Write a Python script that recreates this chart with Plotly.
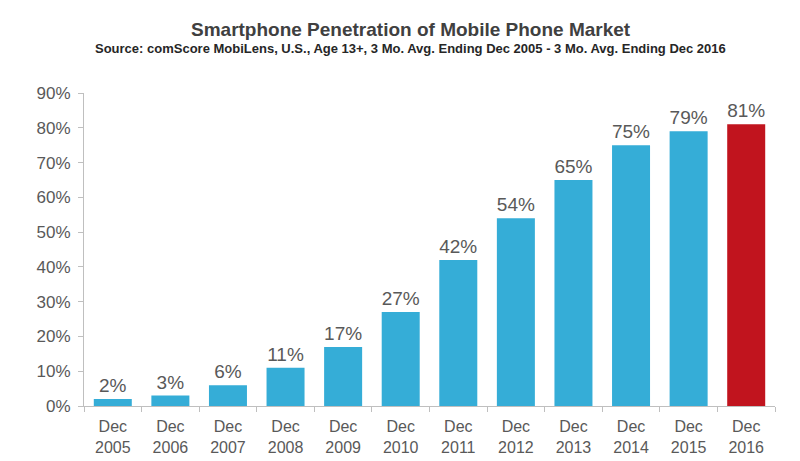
import plotly.graph_objects as go

categories = ["Dec<br>2005", "Dec<br>2006", "Dec<br>2007", "Dec<br>2008", "Dec<br>2009", "Dec<br>2010",
              "Dec<br>2011", "Dec<br>2012", "Dec<br>2013", "Dec<br>2014", "Dec<br>2015", "Dec<br>2016"]
values = [2, 3, 6, 11, 17, 27, 42, 54, 65, 75, 79, 81]
labels = [f"{v}%" for v in values]
colors = ["#35ADD7"] * 11 + ["#C1141E"]
y_ticks = [0, 10, 20, 30, 40, 50, 60, 70, 80, 90]
y_tick_labels = [f"{t}%" for t in y_ticks]

FONT = "Liberation Sans, Arial, sans-serif"
TXT = "#595959"

# page offset of the browser's default body margin
OFF = 8
W, H = 800, 461
L, R, T, B = 84 - OFF, 25 + OFF, 93 - OFF, 55 + OFF
pw, ph = W - L - R, H - T - B


def px(x_page):
    return (x_page - OFF - L) / pw


def py(y_page):
    return (H - (y_page - OFF) - B) / ph


fig = go.Figure(go.Bar(
    x=categories, y=values, marker=dict(color=colors, line=dict(width=0)),
    text=labels, textposition="outside", cliponaxis=False, constraintext="none",
    textfont=dict(family=FONT, size=19, color=TXT),
))

fig.update_layout(
    width=W, height=H,
    margin=dict(l=L, r=R, t=T, b=B, autoexpand=False),
    paper_bgcolor="white", plot_bgcolor="white",
    bargap=0.34, showlegend=False,
    font=dict(family=FONT, color=TXT),
    annotations=[
        dict(text="<b>Smartphone Penetration of Mobile Phone Market</b>", x=px(411), y=py(30),
             xref="paper", yref="paper", showarrow=False, font=dict(size=19, color="#404040", family=FONT),
             xanchor="center", yanchor="middle"),
        dict(text="<b>Source: comScore MobiLens, U.S., Age 13+, 3 Mo. Avg. Ending Dec 2005 - 3 Mo. Avg. Ending Dec 2016</b>",
             x=px(410), y=py(48), xref="paper", yref="paper", showarrow=False,
             font=dict(size=13, color="#262626", family=FONT),
             xanchor="center", yanchor="middle"),
    ],
)

fig.update_xaxes(
    showline=True, linecolor="#BFBFBF", linewidth=1, tickangle=0,
    ticks="outside", tickson="boundaries", ticklen=5, tickcolor="#BFBFBF",
    ticklabelstandoff=6,
    tickfont=dict(size=16, color=TXT, family=FONT), showgrid=False,
)
fig.update_yaxes(
    range=[0, 90], tickvals=y_ticks, ticktext=y_tick_labels,
    showline=True, linecolor="#BFBFBF", linewidth=1,
    ticks="outside", ticklen=5, tickcolor="#BFBFBF", ticklabelstandoff=4,
    tickfont=dict(size=17, color=TXT, family=FONT), showgrid=False, zeroline=False,
)

fig.write_html("out.html")
